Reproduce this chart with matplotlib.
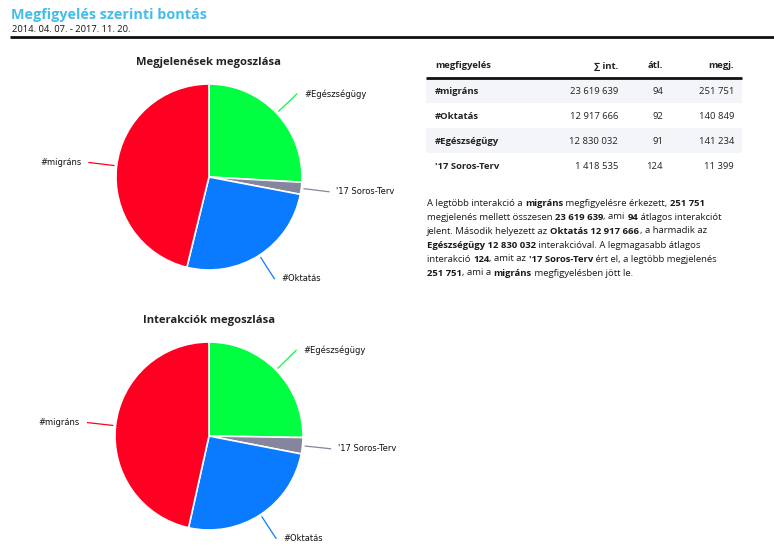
import numpy as np
import matplotlib
matplotlib.use('Agg')
import matplotlib.pyplot as plt
from matplotlib.patches import Rectangle
from matplotlib.font_manager import FontProperties

# adatok
cimkek = ['#Egészségügy', "'17 Soros-Terv", '#Oktatás', '#migráns']
megjelenes = [141234, 11399, 140849, 251751]
interakcio = [12830032, 1418535, 12917666, 23619639]
szinek = ['#00ff40', '#85859e', '#0a7aff', '#ff0022']

tabla_nev = ['#migráns', '#Oktatás', '#Egészségügy', "'17 Soros-Terv"]
tabla_int = [23619639, 12917666, 12830032, 1418535]
tabla_atl = [94, 92, 91, 124]
tabla_megj = [251751, 140849, 141234, 11399]
fejlec = ['megfigyelés', '∑ int.', 'átl.', 'megj.']

W, H = 774, 559
FONT = 'Open Sans'


def fmt(v):
    return f"{v:,}".replace(",", " ")


fig = plt.figure(figsize=(W / 100, H / 100), dpi=100)
bg = fig.add_axes([0, 0, 1, 1])
bg.set_xlim(0, W)
bg.set_ylim(H, 0)
bg.axis('off')

# fejléc
bg.text(11, 15, 'Megfigyelés szerinti bontás', fontsize=10.4, fontweight='bold',
        color='#45bdea', family=FONT, va='center', ha='left')
bg.text(12, 30, '2014. 04. 07. - 2017. 11. 20.', fontsize=6.75, color='#111111',
        family=FONT, va='center', ha='left')
bg.plot([10, W], [37, 37], color='#111111', lw=2, solid_capstyle='butt')

# táblázat
for i in (0, 2):
    bg.add_patch(Rectangle((426, 78 + i * 25), 316, 25, color='#f3f5f8', lw=0))
bg.plot([426, 742], [77.5, 77.5], color='#111111', lw=2, solid_capstyle='butt')
oszlop_x = [435, 618, 663, 734]
for j, f in enumerate(fejlec):
    bg.text(oszlop_x[j], 66, f, fontsize=6.8, fontweight='bold', family=FONT,
            color='#222222', va='center', ha='left' if j == 0 else 'right')
for i in range(len(tabla_nev)):
    y = 91 + i * 25.3
    bg.text(oszlop_x[0], y, tabla_nev[i], fontsize=6.8, fontweight='bold',
            family=FONT, color='#222222', va='center', ha='left')
    for j, v in enumerate([tabla_int[i], tabla_atl[i], tabla_megj[i]]):
        bg.text(oszlop_x[j + 1], y, fmt(v), fontsize=6.8, family=FONT,
                color='#222222', va='center', ha='right')

# szöveges összefoglaló (félkövér részekkel)
sorok = [
    [('A legtöbb interakció a ', 0), ('migráns', 1), (' megfigyelésre érkezett, ', 0), ('251 751', 1)],
    [('megjelenés mellett összesen ', 0), ('23 619 639', 1), (', ami ', 0), ('94', 1),
     (' átlagos interakciót', 0)],
    [('jelent. Második helyezett az ', 0), ('Oktatás 12 917 666', 1), (', a harmadik az', 0)],
    [('Egészségügy 12 830 032', 1), (' interakcióval. A legmagasabb átlagos', 0)],
    [('interakció ', 0), ('124', 1), (', amit az ', 0), ("'17 Soros-Terv", 1),
     (' ért el, a legtöbb megjelenés', 0)],
    [('251 751', 1), (', ami a ', 0), ('migráns', 1), (' megfigyelésben jött le.', 0)],
]
r = fig.canvas.get_renderer()
PSZ = 6.8

for k, sor in enumerate(sorok):
    x = 427
    y = 203 + k * 14
    for szoveg, bold in sor:
        fp = FontProperties(family=FONT, size=PSZ, weight='bold' if bold else 'normal')
        bg.text(x, y, szoveg, fontproperties=fp, color='#1a1a1a', va='center', ha='left')
        x += r.get_text_width_height_descent(szoveg, fp, False)[0]


def kor(cx, cy, rad, cim, ertekek):
    half = 150
    ax = fig.add_axes([(cx - half) / W, (H - cy - half) / H, 2 * half / W, 2 * half / H])
    wedges, _ = ax.pie(ertekek, colors=szinek, startangle=90, counterclock=False,
                       wedgeprops=dict(edgecolor='white', linewidth=1.2))
    lim = half / rad
    ax.set_xlim(-lim, lim)
    ax.set_ylim(-lim, lim)
    ax.axis('off')
    ax.text(0, 115 / rad, cim, fontsize=8.1, fontweight='bold', family=FONT,
            color='#222222', ha='center', va='center')
    for w, lab, c in zip(wedges, cimkek, szinek):
        a = np.deg2rad((w.theta1 + w.theta2) / 2)
        ca, sa = np.cos(a), np.sin(a)
        ax.plot([1.03 * ca, 1.3 * ca], [1.03 * sa, 1.3 * sa], color=c, lw=0.9,
                clip_on=False)
        ha = 'left' if ca > 0 else 'right'
        dx = 0.08 if ca > 0 else -0.08
        ax.text(1.3 * ca + dx, 1.3 * sa, lab, fontsize=6, family='DejaVu Sans',
                color='#111111', ha=ha, va='center', clip_on=False)
    return ax


kor(209, 177, 93, 'Megjelenések megoszlása', megjelenes)
kor(209, 436, 94, 'Interakciók megoszlása', interakcio)

fig.savefig('out.png', dpi=100)
